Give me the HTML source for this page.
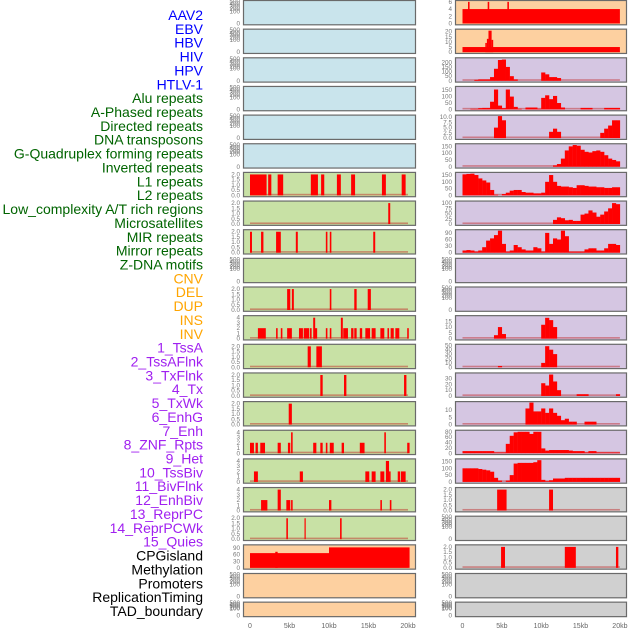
<!DOCTYPE html>
<html><head><meta charset="utf-8">
<style>
html,body{margin:0;padding:0;background:#fff;}
svg{display:block;font-family:"Liberation Sans",sans-serif;}
</style></head>
<body>
<svg id="chart" width="630" height="630" viewBox="0 0 630 630" xmlns="http://www.w3.org/2000/svg">
<g id="labels"></g>
<g id="panels"></g>
<g id="xaxes"></g>
</svg>
<script>
// ---------- labels ----------
const labelNames=["AAV2","EBV","HBV","HIV","HPV","HTLV-1","Alu repeats","A-Phased repeats","Directed repeats","DNA transposons","G-Quadruplex forming repeats","Inverted repeats","L1 repeats","L2 repeats","Low_complexity A/T rich regions","Microsatellites","MIR repeats","Mirror repeats","Z-DNA motifs","CNV","DEL","DUP","INS","INV","1_TssA","2_TssAFlnk","3_TxFlnk","4_Tx","5_TxWk","6_EnhG","7_Enh","8_ZNF_Rpts","9_Het","10_TssBiv","11_BivFlnk","12_EnhBiv","13_ReprPC","14_ReprPCWk","15_Quies","CPGisland","Methylation","Promoters","ReplicationTiming","TAD_boundary"];
const labelGroups=["virus","virus","virus","virus","virus","virus","repeat","repeat","repeat","repeat","repeat","repeat","repeat","repeat","repeat","repeat","repeat","repeat","repeat","sv","sv","sv","sv","sv","chrom","chrom","chrom","chrom","chrom","chrom","chrom","chrom","chrom","chrom","chrom","chrom","chrom","chrom","chrom","other","other","other","other","other"];
const groupColor={virus:"#0000ff",repeat:"#006400",sv:"#ffa500",chrom:"#a020f0",other:"#000000"};

// ---------- x axis ----------
const xTickKb=[0,5,10,15,20];
const xTickLabels=["0","5kb","10kb","15kb","20kb"];

// ---------- left column panel data (intervals [startKb,endKb,value]) ----------
const L0=[],L1=[],L2=[],L3=[],L4=[],L5=[];
const L6=[[0,2.1,2],[2.3,2.7,2],[3.5,4.2,2],[7.7,8.6,2],[9.0,9.4,2],[11.0,11.5,2],[12.8,13.3,2],[16.7,17.2,2],[19.2,19.7,2]];
const L7=[[17.5,17.75,2]];
const L8=[[0,0.25,2],[1.4,1.7,2],[3.3,3.9,2],[5.8,6.05,2],[9.6,9.8,2],[10.1,10.3,2],[15.6,15.85,2]];
const L9=[];
const L10=[[4.7,5.1,2],[5.3,5.55,2],[10.1,10.3,2],[13.2,13.5,2],[14.9,15.3,2]];
const L11=[[1.0,2.0,2],[3.3,3.5,2],[3.9,4.1,2],[4.7,5.3,2],[6.2,6.7,2],[6.8,7.5,2],[7.6,7.8,2],[8.1,8.5,2],[9.6,9.8,2],[10.1,10.3,2],[11.8,12.4,2],[12.8,13.1,2],[13.2,13.5,2],[13.9,14.2,2],[14.6,15.2,2],[15.4,15.9,2],[16.5,17.0,2],[17.4,17.6,2],[17.8,18.2,2],[18.4,18.9,2],[19.9,20.1,2],[8.0,8.25,4],[11.5,11.75,4]];
const L12=[[7.3,7.7,2],[8.4,9.1,2]];
const L13=[[8.9,9.2,2],[11.9,12.2,2],[19.5,19.8,2]];
const L14=[[4.9,5.3,2]];
const L15=[[0,0.5,2],[0.7,1.0,2],[1.3,1.9,2],[3.5,3.9,2],[4.8,5.1,2],[8.0,8.4,2],[8.9,9.2,2],[9.6,9.8,2],[10.1,10.6,2],[11.6,11.9,2],[13.9,14.5,2],[19.9,20.2,2],[5.2,5.4,4],[17.0,17.2,4]];
const L16=[[0.5,1.0,2],[6.3,6.7,2],[14.6,15.1,2],[15.4,15.9,2],[16.5,17.0,2],[17.6,17.8,2],[18.7,19.0,2],[19.1,19.7,2],[17.2,17.6,4]];
const L17=[[1.4,2.2,2],[4.6,5.1,2],[5.2,5.4,2],[10.0,10.3,2],[16.5,16.7,2],[17.7,17.9,2],[3.5,3.9,4]];
const L18=[[4.6,4.8,2],[6.9,7.05,2],[11.4,11.6,2]];
const L19=[[0,10,67],[3.2,3.5,73],[10,20.2,93]];
const L20=[],L21=[];

// ---------- right column panel data ----------
// interval panels
const R0=[[0,20,4],[0.7,0.9,6],[3.2,3.4,6],[5.7,5.9,6]];
const R1=[[0,20,5],[2.9,3.1,9],[3.1,3.3,13],[3.3,3.7,21],[3.7,3.9,12]];
// 0.5kb bins from 0 to 20kb
const R2=[0,0,0,10,15,15,15,40,130,225,230,150,50,15,0,0,0,0,0,0,90,70,40,40,30,0,0,0,0,0,0,0,0,0,0,0,0,0,0,0];
const R3=[0,0,5,5,10,12,12,60,155,30,10,155,100,20,5,0,15,15,15,5,90,110,80,105,50,15,0,0,0,0,12,12,12,0,0,0,12,12,12,12];
const R4=[0,0,0,0,0,0,0,0,5,10.5,8.5,0,0,0,0,0,0,0,0,0,0,0,3,4.5,3,0,0,0,0,0,0,0,0,0,0,2.5,4.5,6,8.5,8.5];
const R5=[0,0,0,0,0,0,0,0,0,0,0,0,0,0,0,0,0,0,0,0,0,0,0,10,20,60,120,150,160,155,125,110,105,115,120,110,85,60,50,40];
const R6=[155,158,160,150,125,110,95,40,5,0,10,20,35,40,40,25,20,20,15,15,20,100,150,100,70,65,65,60,55,75,75,70,65,65,60,60,55,55,60,60];
const R7=[0,0,0,0,0,0,0,0,0,0,0,0,0,0,0,0,0,0,0,0,0,0,0,20,32,28,18,20,15,15,45,50,65,55,35,45,60,75,100,95];
const R8=[10,12,10,5,10,25,55,65,80,100,40,5,10,35,25,15,10,10,25,20,5,90,40,65,60,100,75,5,5,5,5,15,20,20,10,10,20,40,40,35];
const R9=[],R10=[];
const R11=[0,0,0,0,0,0,0,0,3,10,4,0,0,0,0,0,0,0,0,0,12,18,16,10,0,0,0,0,0,0,0,0,0,0,0,0,0,0,0,0];
const R12=[0,0,0,0,0,0,0,0,0,3,0,0,0,0,0,0,0,0,0,0,10,48,40,30,0,0,0,0,0,0,0,0,0,0,0,0,0,0,0,0];
const R13=[0,0,0,0,0,0,0,0,0,0,0,0,0,0,0,0,0,0,0,0,22,18,37,25,10,0,0,0,0,3,3,3,0,0,0,0,0,0,0,3];
const R14=[0,0,0,0,0,0,0,0,0,0,0,0,0,0,0,0,11,15,9,9,11,8,11,8,6,3,4,2,2,0,0,2,2,2,0,0,0,0,0,0];
const R15=[8,8,8,8,8,8,8,8,3,3,3,35,65,78,80,80,80,72,80,80,18,10,12,12,12,12,12,10,8,8,8,3,8,8,3,3,3,3,3,3];
const R16=[100,100,100,100,95,90,85,75,30,10,0,10,50,135,140,140,140,140,145,160,15,5,12,25,25,25,30,30,30,30,30,30,30,30,30,30,30,30,30,30];
const R17=[[4.4,5.6,2],[11.0,11.5,2]];
const R18=[];
const R19=[[4.9,5.4,2],[13.0,14.4,2],[19.5,19.8,2]];
const R20=[],R21=[];

const leftData=[L0,L1,L2,L3,L4,L5,L6,L7,L8,L9,L10,L11,L12,L13,L14,L15,L16,L17,L18,L19,L20,L21];
const rightData=[R0,R1,R2,R3,R4,R5,R6,R7,R8,R9,R10,R11,R12,R13,R14,R15,R16,R17,R18,R19,R20,R21];

// y tick labels per panel
const leftTicks=[
 ["0","100","200","300","400","500"],["0","100","200","300","400","500"],["0","100","200","300","400","500"],["0","100","200","300","400","500"],["0","100","200","300","400","500"],["0","100","200","300","400","500"],
 ["0.0","0.5","1.0","1.5","2.0"],["0.0","0.5","1.0","1.5","2.0"],["0.0","0.5","1.0","1.5","2.0"],["0","100","200","300","400","500"],["0.0","0.5","1.0","1.5","2.0"],["0","1","2","3","4"],["0.0","0.5","1.0","1.5","2.0"],["0.0","0.5","1.0","1.5","2.0"],["0.0","0.5","1.0","1.5","2.0"],["0","1","2","3","4"],["0","1","2","3","4"],["0","1","2","3","4"],["0.0","0.5","1.0","1.5","2.0"],["0","30","60","90"],["0","100","200","300","400","500"],["0","100","200","300","400","500"]];
const leftMax=[500,500,500,500,500,500,2.1,2.1,2.1,500,2.1,4.2,2.1,2.1,2.1,4.2,4.2,4.2,2.1,100,500,500];
const rightTicks=[
 ["0","2","4","6"],["0","5","10","15","20"],["0","50","100","150","200"],["0","50","100","150"],["0.0","2.5","5.0","7.5","10.0"],["0","50","100","150"],["0","50","100","150"],["0","25","50","75","100"],["0","30","60","90"],["0","100","200","300","400","500"],["0","100","200","300","400","500"],["0","5","10","15"],["0","10","20","30","40","50"],["0","10","20","30"],["0","5","10"],["0","20","40","60","80"],["0","50","100","150"],["0.0","0.5","1.0","1.5","2.0"],["0","100","200","300","400","500"],["0.0","0.5","1.0","1.5","2.0"],["0","100","200","300","400","500"],["0","100","200","300","400","500"]];
const rightMax=[6.1,21.5,238,171,10.5,162,162,105,100,500,500,19,50,38,15,82,162,2.1,500,2.1,500,500];

const leftBg=i=>i<6?"#c9e4ec":(i<19?"#c8e1a5":"#fdd0a0");
const rightBg=i=>i<2?"#fdd0a0":(i<17?"#d5c6e2":"#d0d0d0");

const NS="http://www.w3.org/2000/svg";
function mk(tag,attrs,parent){const e=document.createElementNS(NS,tag);for(const k in attrs)e.setAttribute(k,attrs[k]);parent.appendChild(e);return e;}

const labelsG=document.getElementById("labels");
labelNames.forEach((t,i)=>{
  const el=mk("text",{x:203,y:(15+i*13.86+5).toFixed(1),"text-anchor":"end","font-size":"14",fill:groupColor[labelGroups[i]]},labelsG);
  el.textContent=t;
  
  
});

const cols=[
 {x0:243,x1:416,zero:250,pxkb:7.9,tickX:240,data:leftData,ticks:leftTicks,max:leftMax,bg:leftBg,name:"left"},
 {x0:455,x1:627,zero:462.5,pxkb:7.87,tickX:452,data:rightData,ticks:rightTicks,max:rightMax,bg:rightBg,name:"right"}
];
const panelsG=document.getElementById("panels");
const xaxesG=document.getElementById("xaxes");

cols.forEach(c=>{
  const xs=kb=>c.zero+kb*c.pxkb;
  for(let i=0;i<22;i++){
    const top=0.5+i*28.65;
    const h=i===21?14.5:24.3;
    const g=mk("g",{},panelsG);
    
    
    mk("rect",{x:c.x0,y:top,width:c.x1-c.x0,height:h,fill:c.bg(i)},g);
    const base=top+h-1.3, ph=h-2.3;
    const ymax=c.max[i];
    const ys=v=>base-(v/ymax)*ph;
    const d=c.data[i];
    if(d.length){
      const strip=mk("rect",{x:xs(0),y:base-1.6,width:20*c.pxkb,height:1.6,fill:"rgba(190,30,30,0.45)"},g);
      
      
      if(Array.isArray(d[0])){
        d.forEach(iv=>{
          const y=Math.max(top,ys(iv[2]));
          const r=mk("rect",{x:xs(iv[0]).toFixed(2),y:y.toFixed(2),width:Math.max(1.2,(iv[1]-iv[0])*c.pxkb).toFixed(2),height:(base-y).toFixed(2),fill:"#ff0000"},g);
          
          
        });
      } else {
        d.forEach((v,k)=>{
          if(v<=0)return;
          const y=Math.max(top,ys(v));
          const r=mk("rect",{x:xs(k*0.5).toFixed(2),y:y.toFixed(2),width:(0.5*c.pxkb+0.2).toFixed(2),height:(base-y).toFixed(2),fill:"#ff0000"},g);
          
          
        });
      }
    }
    mk("rect",{x:c.x0+0.5,y:top,width:c.x1-c.x0-1,height:h,fill:"none",stroke:"#6a6a6a","stroke-width":"1.2"},g);
    // y ticks
    const tl=c.ticks[i];
    const isEmpty500=tl[tl.length-1]==="500";
    const fr=[0,0.55,0.66,0.77,0.88,1.0];
    tl.forEach((t,k)=>{
      let y;
      if(isEmpty500) y=base-fr[k]*ph; else y=ys(parseFloat(t));
      const tx=mk("text",{x:c.tickX,y:(y+2).toFixed(1),"text-anchor":"end","font-size":"6.3",fill:"#777"},g);
      tx.textContent=t;
      
      
    });
  }
  xTickKb.forEach((kb,k)=>{
    const t=mk("text",{x:xs(kb).toFixed(1),y:628,"text-anchor":"middle","font-size":"7",fill:"#666"},xaxesG);
    t.textContent=xTickLabels[k];
    
    
  });
});
</script>
</body></html>
